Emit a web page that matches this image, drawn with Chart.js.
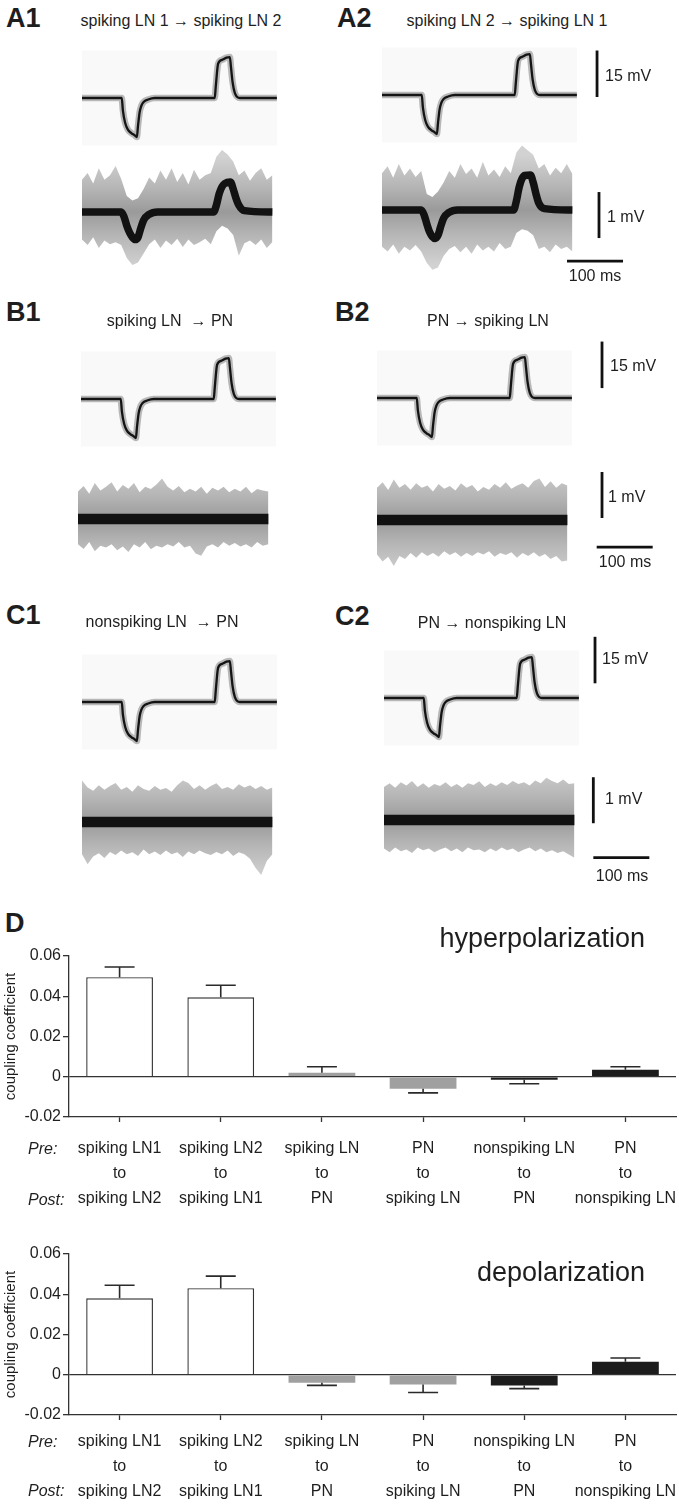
<!DOCTYPE html>
<html><head><meta charset="utf-8">
<script src="https://cdn.jsdelivr.net/npm/chart.js@4.4.1/dist/chart.umd.min.js"></script>
<style>
html,body{margin:0;padding:0;background:#fff;}
#stage{position:relative;width:679px;height:1505px;overflow:hidden;background:#fff;font-family:"Liberation Sans",Arial,sans-serif;color:#1e1e1e;}
#stage canvas{position:absolute;}
.t{position:absolute;white-space:pre;line-height:1;}
</style></head><body><div id="stage"></div>
<script>
// ---------------- DATA ----------------
// presynaptic (current-injected) response, ms / mV
const preT = [0,71,73,77,82,88,94,98,100,103,106,110,118,130,237,239,243,250,258,264,266,269,273,282,348];
const preV = [0,0,-4,-8,-10.2,-11.3,-12,-12.6,-9,-4.5,-2.5,-1.3,-0.5,0,0,4,11,12.3,13,13.2,10,5,1.6,0,0];
// postsynaptic mean responses (A panels), ms / mV
const postAT = [0,70,75,80,85,90,95,100,105,110,120,135,235,240,245,250,255,265,270,275,280,290,340];
const postA1V = [0,0,-0.1,-0.3,-0.45,-0.55,-0.6,-0.55,-0.35,-0.18,-0.05,0,0,0.15,0.4,0.55,0.62,0.65,0.5,0.3,0.15,0.03,0];
const postA2V = [0,0,-0.1,-0.3,-0.48,-0.58,-0.62,-0.55,-0.35,-0.18,-0.05,0,0,0.2,0.5,0.68,0.75,0.76,0.6,0.35,0.15,0.03,0];
// uncoupled mean responses (B, C panels)
const flatT = [0,340];
const flatV = [0,0];
// noise envelope of the individual sweeps, ms / mV
const envT = [0,10,20,30,40,50,60,70,80,90,100,110,120,130,140,150,160,170,180,190,200,210,220,230,240,250,260,270,280,290,300,310,320,330,340];
const a1Up = [0.7,0.85,0.62,0.95,0.7,0.8,1.0,0.72,0.35,0.25,0.3,0.5,0.75,0.62,0.9,0.7,0.95,0.65,0.85,0.6,0.92,0.7,0.8,0.85,1.2,1.35,1.25,1.1,0.8,0.9,0.68,0.85,0.95,0.7,0.8];
const a1Lo = [-0.6,-0.72,-0.55,-0.78,-0.62,-0.7,-0.66,-0.72,-1.0,-1.15,-1.1,-0.9,-0.7,-0.6,-0.78,-0.62,-0.72,-0.58,-0.76,-0.6,-0.72,-0.66,-0.58,-0.7,-0.42,-0.3,-0.36,-0.5,-0.95,-0.68,-0.62,-0.72,-0.6,-0.78,-0.65];
const a2Up = [0.8,0.95,0.7,1.0,0.75,0.9,0.72,0.85,0.35,0.28,0.4,0.6,0.85,0.7,1.0,0.78,0.9,0.7,1.05,0.75,0.88,0.72,0.95,0.8,1.25,1.4,1.3,1.2,0.9,1.0,0.75,0.92,0.8,1.0,0.78];
const a2Lo = [-0.8,-0.9,-0.75,-0.95,-0.8,-0.88,-0.76,-0.9,-1.15,-1.3,-1.25,-1.0,-0.85,-0.78,-0.92,-0.8,-0.95,-0.75,-0.88,-0.8,-0.9,-0.72,-0.85,-0.8,-0.5,-0.42,-0.45,-0.55,-0.85,-0.8,-0.92,-0.75,-0.85,-0.8,-0.9];
const b1Up = [0.6,0.72,0.55,0.78,0.62,0.7,0.8,0.6,0.74,0.66,0.78,0.58,0.7,0.65,0.75,0.88,0.7,0.62,0.72,0.58,0.66,0.6,0.7,0.55,0.68,0.62,0.7,0.58,0.66,0.6,0.7,0.56,0.65,0.62,0.6];
const b1Lo = [-0.55,-0.65,-0.5,-0.7,-0.58,-0.62,-0.55,-0.68,-0.6,-0.72,-0.55,-0.62,-0.5,-0.66,-0.58,-0.62,-0.55,-0.6,-0.5,-0.62,-0.58,-0.75,-0.8,-0.6,-0.55,-0.62,-0.5,-0.58,-0.52,-0.6,-0.55,-0.62,-0.5,-0.58,-0.55];
const b2Up = [0.7,0.82,0.65,0.88,0.7,0.78,0.66,0.8,0.7,0.75,0.62,0.78,0.68,0.74,0.64,0.8,0.7,0.76,0.62,0.72,0.66,0.78,0.7,0.82,0.68,0.75,0.8,0.7,0.85,0.9,0.72,0.84,0.7,0.8,0.75];
const b2Lo = [-0.75,-0.9,-0.8,-1.0,-0.78,-0.85,-0.72,-0.82,-0.7,-0.78,-0.72,-0.8,-0.68,-0.76,-0.7,-0.8,-0.72,-0.78,-0.7,-0.75,-0.68,-0.8,-0.72,-0.76,-0.7,-0.82,-0.72,-0.78,-0.7,-0.8,-0.74,-0.85,-0.78,-0.9,-0.88];
const c1Up = [0.9,0.75,0.68,0.8,0.7,0.78,0.85,0.7,0.76,0.66,0.8,0.72,0.68,0.78,0.7,0.74,0.66,0.8,0.9,0.85,0.72,0.8,0.7,0.78,0.84,0.72,0.76,0.7,0.82,0.75,0.8,0.72,0.78,0.7,0.75];
const c1Lo = [-0.7,-0.92,-0.75,-0.68,-0.78,-0.65,-0.72,-0.62,-0.7,-0.66,-0.74,-0.6,-0.7,-0.64,-0.72,-0.62,-0.7,-0.66,-0.76,-0.64,-0.7,-0.62,-0.68,-0.72,-0.65,-0.7,-0.62,-0.74,-0.66,-0.7,-0.8,-1.0,-1.15,-0.85,-0.7];
const c2Up = [0.72,0.8,0.7,0.82,0.75,0.85,0.72,0.8,0.7,0.78,0.74,0.82,0.72,0.78,0.7,0.8,0.76,0.84,0.72,0.8,0.74,0.82,0.76,0.85,0.78,0.82,0.75,0.86,0.8,0.92,0.85,0.8,0.88,0.78,0.8];
const c2Lo = [-0.62,-0.7,-0.6,-0.68,-0.64,-0.72,-0.6,-0.66,-0.62,-0.7,-0.64,-0.6,-0.68,-0.62,-0.7,-0.6,-0.66,-0.64,-0.7,-0.62,-0.68,-0.6,-0.66,-0.62,-0.7,-0.64,-0.6,-0.68,-0.62,-0.7,-0.66,-0.72,-0.68,-0.75,-0.82];
// scale bar lengths
const barMv15 = 15, barMv1 = 1, barMs = 100;
// panel D
const preLabels  = ['spiking LN1','spiking LN2','spiking LN','PN','nonspiking LN','PN'];
const postLabels = ['spiking LN2','spiking LN1','PN','spiking LN','PN','nonspiking LN'];
const hyperMean = [0.0495,0.0395,0.002,-0.006,-0.0015,0.0035];
const hyperSem  = [0.005,0.006,0.003,0.002,0.002,0.0015];
const depolMean = [0.038,0.043,-0.004,-0.0048,-0.0053,0.0064];
const depolSem  = [0.0065,0.006,0.0013,0.004,0.0016,0.0019];
const yTickLabels = ['-0.02','0','0.02','0.04','0.06'];

// ---------------- DRAWING ----------------
const FONT = '"Liberation Sans", Arial, sans-serif';
Chart.defaults.font.family = FONT;
const stage = document.getElementById('stage');
const pts = (T,V)=>T.map((t,i)=>({x:t,y:V[i]}));

function text(str,x,base,size,o={}){
  const d=document.createElement('div'); d.className='t'; d.textContent=str;
  d.style.fontSize=size+'px'; d.style.top=(base-0.85*size)+'px';
  if(o.bold) d.style.fontWeight='bold';
  if(o.italic) d.style.fontStyle='italic';
  if(o.align==='center'){d.style.left=x+'px';d.style.transform='translateX(-50%)';}
  else if(o.align==='right'){d.style.right=(679-x)+'px';}
  else d.style.left=x+'px';
  stage.appendChild(d);
}

const bgPlugin = {id:'bgbox', beforeDatasetsDraw(chart,args,opts){
  if(!opts || !opts.t) return;
  const {x,y}=chart.scales, ctx=chart.ctx;
  const l=x.getPixelForValue(opts.t[0]), r=x.getPixelForValue(opts.t[1]);
  const tp=y.getPixelForValue(opts.v[1]), bt=y.getPixelForValue(opts.v[0]);
  ctx.save(); ctx.fillStyle=opts.color; ctx.fillRect(l,tp,r-l,bt-tp); ctx.restore();
}};

function traceChart(rect, origin, pxMs, pxMv, datasets, bg){
  const cv=document.createElement('canvas');
  cv.width=rect[2]; cv.height=rect[3];
  cv.style.left=rect[0]+'px'; cv.style.top=rect[1]+'px';
  cv.style.width=rect[2]+'px'; cv.style.height=rect[3]+'px';
  stage.appendChild(cv);
  const xmin=(rect[0]-origin[0])/pxMs, xmax=(rect[0]+rect[2]-origin[0])/pxMs;
  const ymax=(origin[1]-rect[1])/pxMv, ymin=(origin[1]-rect[1]-rect[3])/pxMv;
  new Chart(cv,{type:'line',data:{datasets},plugins:[bgPlugin],options:{
    responsive:false,animation:false,devicePixelRatio:1,events:[],
    layout:{padding:0},
    plugins:{legend:{display:false},tooltip:{enabled:false},bgbox:bg||{}},
    elements:{point:{radius:0}},
    scales:{x:{type:'linear',display:false,min:xmin,max:xmax},y:{type:'linear',display:false,min:ymin,max:ymax}}
  }});
}

const PXMS=0.56, PXMV_TOP=3.1, PXMV_BOT=46;
const BG={t:[0,348],v:[-15.3,15.3],color:'#f9f9f9'};

// soft noise band: dense grey near the mean, sparser toward the edges
function bandFill(c){
  const ch=c.chart; if(!ch.chartArea) return '#aaaaaa';
  const ys=ch.scales.y;
  const g=ch.ctx.createLinearGradient(0,ys.getPixelForValue(1.2),0,ys.getPixelForValue(-1.2));
  g.addColorStop(0,'#d2d2d2'); g.addColorStop(0.28,'#b6b6b6'); g.addColorStop(0.5,'#9a9a9a');
  g.addColorStop(0.72,'#b6b6b6'); g.addColorStop(1,'#d2d2d2');
  return g;
}

function preSets(extra){
  return [
    {data:pts(preT,preV),borderColor:'#141414',borderWidth:2.3,cubicInterpolationMode:'monotone',fill:false},
    {data:pts(preT,preV),borderColor:'rgba(140,140,140,0.6)',borderWidth:6.5,cubicInterpolationMode:'monotone',fill:false}
  ].concat(extra||[]);
}
function postSets(T,V,up,lo,w,extra){
  return [
    {data:pts(T,V),borderColor:'#121212',borderWidth:w,cubicInterpolationMode:'monotone',fill:false}
  ].concat(extra||[]).concat([
    {data:pts(envT,up),borderColor:'rgba(0,0,0,0)',borderWidth:0,backgroundColor:bandFill,fill:'+1',tension:0},
    {data:pts(envT,lo),borderColor:'rgba(0,0,0,0)',borderWidth:0,fill:false,tension:0}
  ]);
}
function vBar(t,v,len){return {data:[{x:t,y:v},{x:t,y:v+len}],borderColor:'#111',borderWidth:2.8,fill:false,tension:0,borderCapStyle:'butt'};}
function hBar(t,v,len){return {data:[{x:t,y:v},{x:t+len,y:v}],borderColor:'#111',borderWidth:2.8,fill:false,tension:0,borderCapStyle:'butt'};}

// ---- A ----
traceChart([76,32,212,125],[82,98],PXMS,PXMV_TOP,preSets(),BG);
traceChart([76,137,212,150],[82,212],PXMS,PXMV_BOT,postSets(postAT,postA1V,a1Up,a1Lo,7.5));
traceChart([376,29,234,125],[382,95],PXMS,PXMV_TOP,preSets([vBar(384,-0.65,barMv15)]),BG);
traceChart([376,135,254,150],[382,210],PXMS,PXMV_BOT,postSets(postAT,postA2V,a2Up,a2Lo,7.5,[vBar(387.5,-0.61,barMv1),hBar(330.4,-1.11,barMs)]));
// ---- B ----
traceChart([75,333,212,125],[81,399],PXMS,PXMV_TOP,preSets(),BG);
traceChart([72,444,212,150],[78,519],PXMS,PXMV_BOT,postSets(flatT,flatV,b1Up,b1Lo,10.5));
traceChart([371,332,240,125],[377,398],PXMS,PXMV_TOP,preSets([vBar(401.8,3.2,barMv15)]),BG);
traceChart([371,445,289,150],[377,520],PXMS,PXMV_BOT,postSets(flatT,flatV,b2Up,b2Lo,10.5,[vBar(401.8,0.043,barMv1),hBar(392.3,-0.59,barMs)]));
// ---- C ----
traceChart([76,636,212,125],[82,702],PXMS,PXMV_TOP,preSets(),BG);
traceChart([76,747,212,150],[82,822],PXMS,PXMV_BOT,postSets(flatT,flatV,c1Up,c1Lo,10.5));
traceChart([378,632,225,125],[384,698],PXMS,PXMV_TOP,preSets([vBar(376.8,4.74,barMv15)]),BG);
traceChart([378,745,282,150],[384,820],PXMS,PXMV_BOT,postSets(flatT,flatV,c2Up,c2Lo,10.5,[vBar(373.8,-0.07,barMv1),hBar(373.8,-0.82,barMs)]));

// panel letters & titles
text('A1',6,28,27,{bold:true}); text('A2',337,28,27,{bold:true});
text('B1',6,322,27,{bold:true}); text('B2',335,322,27,{bold:true});
text('C1',6,625,27,{bold:true}); text('C2',335,626,27,{bold:true});
text('D',5,933,27,{bold:true});
text('spiking LN 1 \u2192 spiking LN 2',181,27,16,{align:'center'});
text('spiking LN 2 \u2192 spiking LN 1',507,27,16,{align:'center'});
text('spiking LN  \u2192 PN',170,327,16,{align:'center'});
text('PN \u2192 spiking LN',488,327,16,{align:'center'});
text('nonspiking LN  \u2192 PN',162,628,16,{align:'center'});
text('PN \u2192 nonspiking LN',492,629,16,{align:'center'});
// scale labels
text('15 mV',605,82,16); text('1 mV',607,223,16); text('100 ms',595,282,16,{align:'center'});
text('15 mV',610,372,16); text('1 mV',608,503,16); text('100 ms',625,568,16,{align:'center'});
text('15 mV',602,665,16); text('1 mV',605,805,16); text('100 ms',622,882,16,{align:'center'});

// ---- D bar charts ----
const errPlugin={id:'errbars',afterDatasetsDraw(chart){
  const ds=chart.data.datasets[0], meta=chart.getDatasetMeta(0), ys=chart.scales.y, ctx=chart.ctx;
  ctx.save(); ctx.strokeStyle='#2a2a2a'; ctx.lineWidth=1.6;
  meta.data.forEach((bar,i)=>{
    const v=ds.data[i], e=ds.sem[i], end=v+(v>=0?e:-e);
    const y0=ys.getPixelForValue(v), y1=ys.getPixelForValue(end);
    ctx.beginPath(); ctx.moveTo(bar.x,y0); ctx.lineTo(bar.x,y1);
    ctx.moveTo(bar.x-15,y1); ctx.lineTo(bar.x+15,y1); ctx.stroke();
  });
  ctx.restore();
}};
function barChart(rect,means,sems,padTop,axisH,tickPad){
  const cv=document.createElement('canvas');
  cv.width=rect[2]; cv.height=rect[3];
  cv.style.left=rect[0]+'px'; cv.style.top=rect[1]+'px';
  cv.style.width=rect[2]+'px'; cv.style.height=rect[3]+'px';
  stage.appendChild(cv);
  new Chart(cv,{type:'bar',plugins:[errPlugin],data:{
    labels:preLabels.map((p,i)=>[p,'to',postLabels[i]]),
    datasets:[{data:means,sem:sems,
      backgroundColor:['#ffffff','#ffffff','#a0a0a0','#a0a0a0','#1c1c1c','#1c1c1c'],
      borderColor:['#333','#333','#a0a0a0','#a0a0a0','#1c1c1c','#1c1c1c'],
      borderWidth:[1.4,1.4,0,0,0,0],borderSkipped:'start',
      categoryPercentage:1,barPercentage:0.66}]},
    options:{responsive:false,animation:false,devicePixelRatio:1,events:[],
      layout:{padding:{top:padTop,right:3,left:0,bottom:0}},
      plugins:{legend:{display:false},tooltip:{enabled:false}},
      scales:{
        x:{offset:true,
          grid:{drawOnChartArea:false,drawTicks:true,tickLength:5,tickColor:'#333',tickWidth:1.3,offset:false},
          border:{color:'#333',width:1.3},
          ticks:{color:'#1e1e1e',font:{size:16,lineHeight:'25px'},padding:tickPad,maxRotation:0,minRotation:0,autoSkip:false},
          afterFit(s){s.height=axisH;s.paddingLeft=0;s.paddingRight=0;}},
        y:{min:-0.02,max:0.06,
          ticks:{stepSize:0.02,color:'#1e1e1e',font:{size:16},padding:2,callback:(v,i)=>yTickLabels[i]},
          grid:{color:(c)=>(c.tick&&Math.abs(c.tick.value)<1e-9)?'#333':'rgba(0,0,0,0)',lineWidth:1.3,
                tickLength:6,tickColor:'#333',tickWidth:1.3,drawTicks:true},
          border:{color:'#333',width:1.3},
          title:{display:true,text:'coupling coefficient',color:'#1e1e1e',font:{size:15},padding:{top:2,bottom:0}},
          afterFit(s){s.width=69;}}
      }}});
}
barChart([0,935,679,282],hyperMean,hyperSem,21,100,14.5);
barChart([0,1233,679,272],depolMean,depolSem,21,90,9.5);
text('hyperpolarization',645,948,27,{align:'right'});
text('depolarization',645,1282,27,{align:'right'});
text('Pre:',28,1155,16,{italic:true}); text('Post:',28,1206,16,{italic:true});
text('Pre:',28,1448,16,{italic:true}); text('Post:',28,1497,16,{italic:true});
</script></body></html>
